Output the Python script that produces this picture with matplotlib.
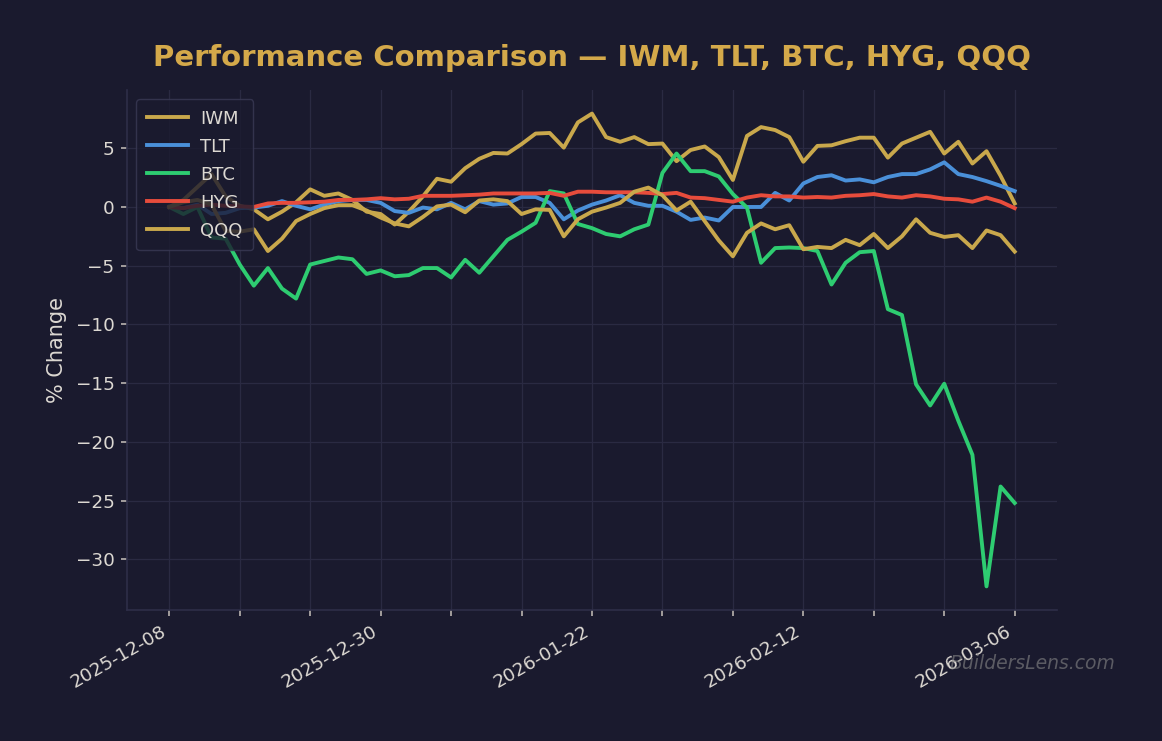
"""
Performance comparison of IWM, TLT, BTC, HYG and QQQ (% change since start).
"""
import matplotlib
matplotlib.use("Agg")
import matplotlib.pyplot as plt
import numpy as np
import pandas as pd

BG = "#1a1a2e"
GOLD = "#c9a84c"
TITLE_GOLD = "#d4a94a"
TEXT = "#dcd8d2"
GRID = "#2a2a42"

# trading days 2025-12-08 .. 2026-03-06 (US market holidays removed)
HOLIDAYS = ["2025-12-25", "2026-01-01", "2026-01-19", "2026-02-16"]
dates = pd.bdate_range("2025-12-08", "2026-03-06", freq="C", holidays=HOLIDAYS)

tickers = ["IWM", "TLT", "BTC", "HYG", "QQQ"]
colors = [GOLD, "#4a90d9", "#2ecc71", "#e74c3c", GOLD]

iwm = [0, 0.6, 1.7, 2.8, 0.9, 0.1, -0.2, -1.05, -0.4, 0.4,
       1.5, 0.95, 1.15, 0.6, -0.4, -0.6, -1.5, -0.4, 0.9, 2.4,
       2.15, 3.3, 4.1, 4.6, 4.55, 5.35, 6.25, 6.3, 5.05, 7.2,
       7.95, 5.95, 5.55, 5.95, 5.35, 5.4, 3.9, 4.85, 5.15, 4.25,
       2.3, 6.05, 6.8, 6.55, 5.95, 3.85, 5.2, 5.25, 5.6, 5.9,
       5.9, 4.2, 5.4, 5.9, 6.4, 4.55, 5.55, 3.7, 4.75, 2.65, 0.3]

tlt = [0, -0.1, 0.2, -0.6, -0.5, -0.1, -0.05, 0.1, 0.5, 0.1,
       -0.2, 0.2, 0.5, 0.6, 0.6, 0.35, -0.35, -0.5, -0.05, -0.2,
       0.35, -0.2, 0.5, 0.2, 0.3, 0.85, 0.85, 0.35, -1.05, -0.3,
       0.2, 0.55, 1.0, 0.35, 0.1, 0.1, -0.4, -1.1, -0.9, -1.15,
       0.0, 0.0, 0.0, 1.2, 0.55, 2.0, 2.55, 2.7, 2.25, 2.35,
       2.1, 2.55, 2.8, 2.8, 3.2, 3.8, 2.8, 2.55, 2.2, 1.8, 1.35]

btc = [0, -0.6, 0.0, -2.6, -2.7, -4.9, -6.7, -5.2, -6.95, -7.8,
       -4.9, -4.6, -4.3, -4.45, -5.7, -5.4, -5.9, -5.8, -5.2, -5.2,
       -6.0, -4.5, -5.6, -4.2, -2.8, -2.1, -1.35, 1.35, 1.15, -1.45,
       -1.8, -2.3, -2.5, -1.9, -1.5, 2.9, 4.55, 3.05, 3.05, 2.6,
       1.1, -0.05, -4.75, -3.5, -3.45, -3.5, -3.75, -6.6, -4.75, -3.85,
       -3.75, -8.7, -9.2, -15.1, -16.9, -15.05, -18.2, -21.1, -32.3, -23.8, -25.2]

hyg = [0, -0.1, 0.1, 0.2, 0.1, 0.05, 0.0, 0.3, 0.35, 0.35,
       0.4, 0.45, 0.6, 0.6, 0.65, 0.75, 0.65, 0.7, 0.95, 0.95,
       0.95, 1.0, 1.05, 1.15, 1.15, 1.15, 1.15, 1.2, 0.95, 1.3,
       1.3, 1.25, 1.25, 1.25, 1.2, 1.1, 1.2, 0.8, 0.75, 0.6,
       0.45, 0.8, 1.0, 0.9, 0.9, 0.8, 0.85, 0.8, 0.95, 1.0,
       1.1, 0.9, 0.8, 1.0, 0.9, 0.7, 0.65, 0.45, 0.8, 0.45, -0.1]

qqq = [0, 0.4, 0.6, 0.2, -2.05, -2.1, -1.9, -3.75, -2.7, -1.2,
       -0.6, -0.1, 0.15, 0.15, -0.3, -0.9, -1.4, -1.65, -0.85, 0.05,
       0.2, -0.45, 0.55, 0.65, 0.5, -0.6, -0.2, -0.25, -2.5, -1.05,
       -0.4, -0.05, 0.35, 1.3, 1.65, 1.0, -0.3, 0.45, -1.2, -2.85,
       -4.2, -2.2, -1.4, -1.9, -1.55, -3.6, -3.4, -3.5, -2.8, -3.25,
       -2.3, -3.5, -2.5, -1.05, -2.2, -2.55, -2.4, -3.5, -2.0, -2.4, -3.8]

series = [iwm, tlt, btc, hyg, qqq]


def main():
    fig = plt.figure(figsize=(11.62, 7.41), dpi=100, facecolor=BG)
    ax = fig.add_axes([0.1093, 0.1768, 0.8003, 0.7018], facecolor=BG)

    x = np.arange(len(dates))
    for name, vals, col in zip(tickers, series, colors):
        ax.plot(x, vals, color=col, lw=2.8, label=name)

    ticks = x[::5]
    labels = [d.strftime("%Y-%m-%d") if i % 15 == 0 else "" for i, d in zip(ticks, dates[::5])]
    ax.set_xticks(ticks)
    ax.set_xticklabels(labels, rotation=30, ha="right")

    ax.grid(True, color=GRID, lw=0.9)
    ax.set_axisbelow(True)
    for side in ["top", "right"]:
        ax.spines[side].set_visible(False)
    for side in ["left", "bottom"]:
        ax.spines[side].set_color("#2e2e48")
        ax.spines[side].set_linewidth(1.2)
    ax.tick_params(colors="#c8c2bb", labelcolor=TEXT, labelsize=13.2, length=4.5, width=1.1, pad=4.5)

    ax.set_ylabel("% Change", color=TEXT, fontsize=15, labelpad=6)
    ax.set_title("Performance Comparison — IWM, TLT, BTC, HYG, QQQ",
                 color=TITLE_GOLD, fontsize=21, fontweight="bold", pad=17)

    leg = ax.legend(loc="upper left", fontsize=13, handlelength=2.3, handletextpad=0.65,
                    labelspacing=0.55, borderpad=0.6,
                    framealpha=0.8, facecolor=BG, edgecolor="#3a3a55", labelcolor=TEXT)
    leg.get_frame().set_linewidth(1.0)

    fig.text(0.96, 0.104, "BuildersLens.com", ha="right", va="center", fontsize=13.5,
             style="italic", color="#888888", alpha=0.6)

    fig.savefig("out.png", dpi=100, facecolor=BG)


if __name__ == "__main__":
    main()
